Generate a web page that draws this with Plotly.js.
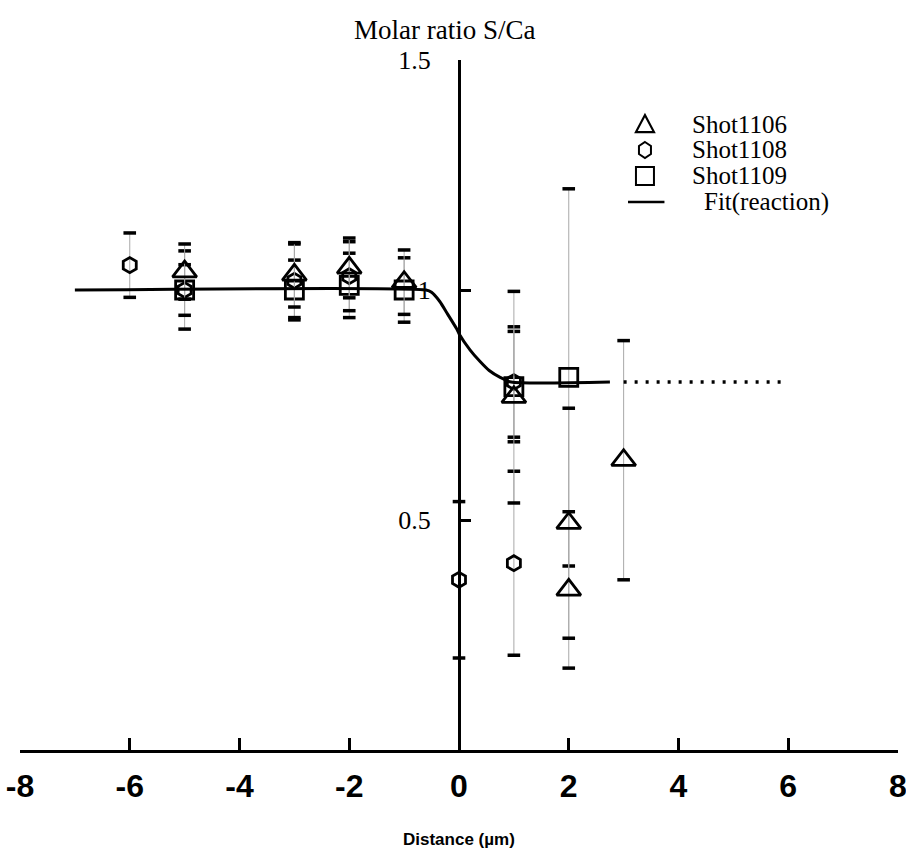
<!DOCTYPE html>
<html><head><meta charset="utf-8">
<script src="https://cdn.plot.ly/plotly-3.0.1.min.js"></script>
<style>body{margin:0;background:#fff}#c{width:906px;height:862px}</style>
</head><body><div id="c"></div>
<script>
// Shot1106 (triangles)
const s1106_x = [-5, -3, -2, -1, 1, 2, 2, 3];
const s1106_y = [1.04, 1.033, 1.048, 1.017, 0.767, 0.493, 0.348, 0.63];
const s1106_err = [0.06, 0.07, 0.065, 0.07, 0.23, 0.25, 0.17, 0.26];
// Shot1108 (hexagons)
const s1108_x = [-6, -5, -3, -2, 0, 1, 1];
const s1108_y = [1.054, 1.0, 1.02, 1.03, 0.37, 0.406, 0.80];
const s1108_err = [0.07, 0.055, 0.08, 0.075, 0.17, 0.2, 0.12];
// Shot1109 (squares)
const s1109_x = [-5, -3, -2, -1, 1, 2];
const s1109_y = [1.0, 1.0, 1.01, 1.0, 0.79, 0.81];
const s1109_err = [0.085, 0.065, 0.07, 0.07, 0.12, 0.41];
// Fit (reaction)
const fit_x = [-7, -0.6, -0.5, -0.35, -0.22, -0.04, 0.0, 0.2, 0.38, 0.55, 0.75, 0.95, 2.75];
const fit_y = [1.0, 1.0, 0.995, 0.975, 0.95, 0.915, 0.905, 0.87, 0.845, 0.825, 0.81, 0.80, 0.80];
const ext_x = [3, 5.95];
const ext_y = [0.80, 0.80];

const xTicks = [-8, -6, -4, -2, 0, 2, 4, 6, 8];
const yTicks = [0.5, 1, 1.5];

function series(xs, ys, errs, symbol, size) {
  return [
    {x: xs, y: ys, type: 'scatter', mode: 'markers',
     marker: {symbol: symbol, size: size, color: '#000', line: {color: '#000', width: 2.8}},
     error_y: {type: 'data', array: errs, visible: true, color: '#a8a8a8', thickness: 1, width: 0}},
    {x: xs.concat(xs), y: ys.map((v, i) => v + errs[i]).concat(ys.map((v, i) => v - errs[i])),
     type: 'scatter', mode: 'markers', hoverinfo: 'skip',
     marker: {symbol: 'line-ew', size: 9, line: {color: '#000', width: 3.5}}}
  ];
}

const data = [].concat(
  series(s1109_x, s1109_y, s1109_err, 'square-open', 18),
  series(s1108_x, s1108_y, s1108_err, 'hexagon-open', 15),
  series(s1106_x, s1106_y, s1106_err, 'triangle-up-open', 21),
  [{x: fit_x, y: fit_y, type: 'scatter', mode: 'lines', line: {color: '#000', width: 3, shape: 'spline', smoothing: 0.6}},
   {x: ext_x, y: ext_y, type: 'scatter', mode: 'lines', line: {color: '#000', width: 3.5, dash: '3px,8px'}}]
);

const lx = 0.7118, tx = 0.7631;
const rows = [0.9072, 0.8696, 0.8319, 0.7942];
const legFont = {family: 'Liberation Serif, Times New Roman, serif', size: 25, color: '#000'};

const layout = {
  width: 906, height: 862,
  margin: {l: 20, r: 8, t: 60, b: 112},
  paper_bgcolor: '#fff', plot_bgcolor: '#fff',
  showlegend: false,
  xaxis: {range: [-8, 8], domain: [0, 1], tickvals: xTicks, ticktext: xTicks.map(String),
          ticks: 'inside', ticklen: 12, tickwidth: 3, tickcolor: '#000',
          showline: true, linewidth: 3, linecolor: '#000', showgrid: false, zeroline: false,
          ticklabelstandoff: 6, ticklabeloverflow: 'allow',
          tickfont: {family: 'Liberation Sans Narrow, Liberation Sans, sans-serif', size: 32, weight: 'bold', color: '#000'}},
  yaxis: {range: [0, 1.5], anchor: 'free', position: 0.5, tickvals: yTicks, ticktext: ['0.5', '1', '1.5'],
          ticks: 'inside', ticklen: 10, tickwidth: 3, tickcolor: '#000',
          showline: true, linewidth: 3, linecolor: '#000', showgrid: false, zeroline: false,
          ticklabelstandoff: 22,
          tickfont: {family: 'Liberation Serif, Times New Roman, serif', size: 26, color: '#000'}},
  annotations: [
    {text: 'Molar ratio S/Ca', xref: 'paper', yref: 'paper', x: 0.483, y: 1.043, xanchor: 'center', yanchor: 'middle',
     showarrow: false, font: {family: 'Liberation Serif, Times New Roman, serif', size: 27, color: '#000'}},
    {text: 'Distance (µm)', xref: 'paper', yref: 'paper', x: 0.5, y: -0.13, xanchor: 'center', yanchor: 'middle',
     showarrow: false, font: {family: 'Liberation Sans Narrow, Liberation Sans, sans-serif', size: 17, weight: 'bold', color: '#000'}},
    {text: 'Shot1106', xref: 'paper', yref: 'paper', x: tx, y: rows[0], xanchor: 'left', yanchor: 'middle', showarrow: false, font: legFont},
    {text: 'Shot1108', xref: 'paper', yref: 'paper', x: tx, y: rows[1], xanchor: 'left', yanchor: 'middle', showarrow: false, font: legFont},
    {text: 'Shot1109', xref: 'paper', yref: 'paper', x: tx, y: rows[2], xanchor: 'left', yanchor: 'middle', showarrow: false, font: legFont},
    {text: 'Fit(reaction)', xref: 'paper', yref: 'paper', x: 0.7768, y: rows[3], xanchor: 'left', yanchor: 'middle', showarrow: false, font: legFont}
  ],
  shapes: [
    {type: 'path', xref: 'paper', yref: 'paper', xsizemode: 'pixel', ysizemode: 'pixel', xanchor: lx, yanchor: rows[0],
     path: 'M -9 -8 L 9 -8 L 0 9 Z', line: {color: '#000', width: 2.2}},
    {type: 'path', xref: 'paper', yref: 'paper', xsizemode: 'pixel', ysizemode: 'pixel', xanchor: lx, yanchor: rows[1],
     path: 'M 0 8 L 6 4 L 6 -4 L 0 -8 L -6 -4 L -6 4 Z', line: {color: '#000', width: 2}},
    {type: 'path', xref: 'paper', yref: 'paper', xsizemode: 'pixel', ysizemode: 'pixel', xanchor: lx, yanchor: rows[2],
     path: 'M -9 -9 L 9 -9 L 9 9 L -9 9 Z', line: {color: '#000', width: 2}},
    {type: 'line', xref: 'paper', yref: 'paper', x0: 0.6925, x1: 0.734, y0: rows[3], y1: rows[3], line: {color: '#000', width: 2.5}}
  ]
};

Plotly.newPlot('c', data, layout, {displayModeBar: false, staticPlot: true});
</script></body></html>
